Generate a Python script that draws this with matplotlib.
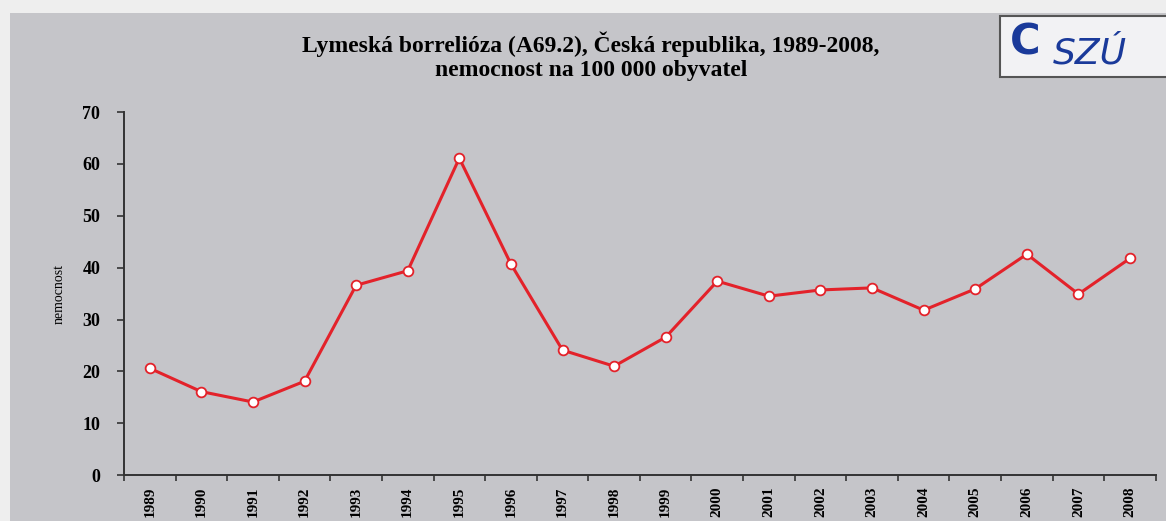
import matplotlib
matplotlib.use("Agg")
import matplotlib.pyplot as plt
from matplotlib.patches import Rectangle

# data
years = ['1989', '1990', '1991', '1992', '1993', '1994', '1995', '1996', '1997', '1998',
         '1999', '2000', '2001', '2002', '2003', '2004', '2005', '2006', '2007', '2008']
incidence = [20.6, 16.1, 14.1, 18.1, 36.6, 39.4, 61.1, 40.7, 24.1, 21.0,
             26.6, 37.4, 34.5, 35.7, 36.1, 31.8, 35.9, 42.6, 34.9, 41.8]
y_ticks = [0, 10, 20, 30, 40, 50, 60, 70]

title = "Lymeská borrelióza (A69.2), Česká republika, 1989-2008,\nnemocnost na 100 000 obyvatel"

plt.rcParams['font.family'] = ['Liberation Serif', 'DejaVu Serif']

fig = plt.figure(figsize=(11.66, 5.21), dpi=100)
fig.patch.set_facecolor('#eeeeee')

# gray panel behind the chart
bg = fig.add_axes([0.009, 0.0, 0.991, 0.975], zorder=-1)
bg.set_facecolor('#c5c5c9')
bg.set_xticks([])
bg.set_yticks([])
for s in bg.spines.values():
    s.set_visible(False)

ax = fig.add_axes([0.1063, 0.088, 0.885, 0.697], zorder=1)
ax.set_facecolor('none')

x = list(range(len(years)))
ax.plot(x, incidence, color='#e3222a', lw=2.2, marker='o', markersize=7,
        markerfacecolor='white', markeredgecolor='#e3222a', markeredgewidth=1.3)

ax.set_ylim(0, 70)
ax.set_xlim(-0.5, len(years) - 0.5)
ax.set_yticks(y_ticks)
ax.set_yticklabels([str(v) for v in y_ticks], fontweight='bold', fontsize=13)
ax.set_xticks(x)
ax.set_xticklabels(years, rotation=90, fontsize=11, fontweight='bold')
ax.tick_params(axis='x', length=0, pad=8)
ax.tick_params(axis='y', length=5, width=1.2, color='#333333', pad=12)

# category boundary ticks on the x axis
ax.set_xticks([i - 0.5 for i in range(len(years) + 1)], minor=True)
ax.tick_params(axis='x', which='minor', length=4, width=1.2, color='#333333', direction='out')

for s in ['top', 'right']:
    ax.spines[s].set_visible(False)
for s in ['left', 'bottom']:
    ax.spines[s].set_color('#333333')
    ax.spines[s].set_linewidth(1.4)

ax.set_ylabel('nemocnost', fontsize=10, labelpad=12)

fig.text(0.507, 0.892, title, ha='center', va='center', fontsize=17,
         fontweight='bold', linespacing=1.2)

# logo box
fig.patches.append(Rectangle((0.858, 0.852), 0.145, 0.118, transform=fig.transFigure,
                             facecolor='#f2f2f4', edgecolor='#555555', lw=1.5, zorder=2))
fig.text(0.935, 0.898, "SZÚ", ha='center', va='center', fontsize=26, color='#1a3a9a',
         style='italic', family=['DejaVu Sans'], zorder=3)
fig.text(0.866, 0.918, "C", ha='left', va='center', fontsize=30, color='#1a3a9a',
         fontweight='bold', family=['DejaVu Sans'], zorder=3)

fig.savefig("out.png", dpi=100, facecolor=fig.get_facecolor())
